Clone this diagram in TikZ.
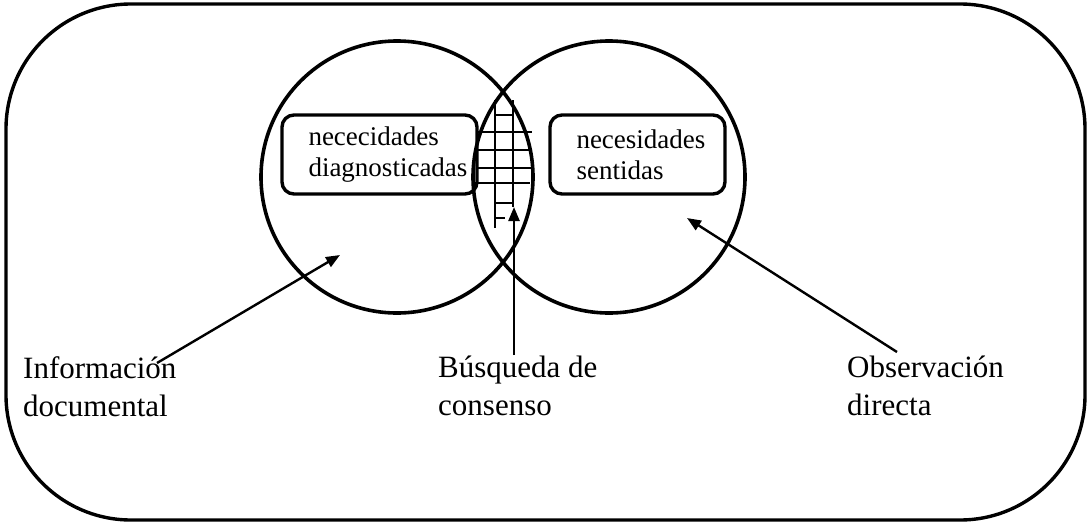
\documentclass[tikz,border=0pt]{standalone}
\usepackage{fontspec}
\setmainfont{Liberation Serif}
\usetikzlibrary{arrows.meta}

\tikzset{
    ring/.style={circle, draw, line width=3.6pt, minimum size=272pt, inner sep=0pt},
    needbox/.style={draw, line width=3.4pt, rounded corners=12pt, minimum height=79pt, inner sep=0pt},
    boxtxt/.style={align=left, inner sep=0pt, font=\fontsize{27}{31}\selectfont},
    lbl/.style={align=left, inner sep=0pt, anchor=north west, font=\fontsize{31}{38}\selectfont},
    pointer/.style={line width=2.4pt, -{Triangle[length=14pt, width=11pt]}}
}

\begin{document}
\begin{tikzpicture}[x=1pt, y=-1pt]
            \useasboundingbox (0, 0) rectangle (1091, 525);
            \draw[line width=3.4pt, rounded corners=125pt] (6, 4) rectangle (1085, 520);
            % the two sets
            \node[ring] (docs) at (397, 177) {};
            \node[ring] (seen) at (609, 177) {};
            % grid in the overlap
            \foreach \y/\a/\b in {115/495/512, 132/478/532, 150/477/532, 168/477/532, 183/477/530, 203/495/512, 218/495/505}
                \draw[line width=1.1pt] (\a, \y) -- (\b, \y);
            \draw[line width=1.1pt] (495, 100) -- (495, 228);
            \draw[line width=1.1pt] (513, 100) -- (513, 207);
            % boxes
            \node[needbox, minimum width=195pt] (diag) at (379.5, 154.5) {};
            \node[needbox, minimum width=175pt] (felt) at (637.5, 154.5) {};
            \node[boxtxt, anchor=west] (diagtxt) at ([xshift=28pt]diag.west) {nececidades\\diagnosticadas};
            \node[boxtxt, anchor=west] (felttxt) at ([xshift=28pt]felt.west) {necesidades\\sentidas};
            % labels
            \node[lbl] (info) at (23, 356) {Información\\documental};
            \node[lbl] (seek) at (438, 356) {Búsqueda de\\consenso};
            \node[lbl] (obs) at (847, 356) {Observación\\directa};
            \coordinate (infotail) at (157, 363);
            \coordinate (infotip) at (340, 255);
            \coordinate (seektail) at (514, 355);
            \coordinate (seektip) at (514, 207);
            \coordinate (obstail) at (897, 352);
            \coordinate (obstip) at (687, 218);
            \draw[pointer] (infotail) -- (infotip);
            \draw[pointer] (seektail) -- (seektip);
            \draw[pointer] (obstail) -- (obstip);
        \end{tikzpicture}
\end{document}
